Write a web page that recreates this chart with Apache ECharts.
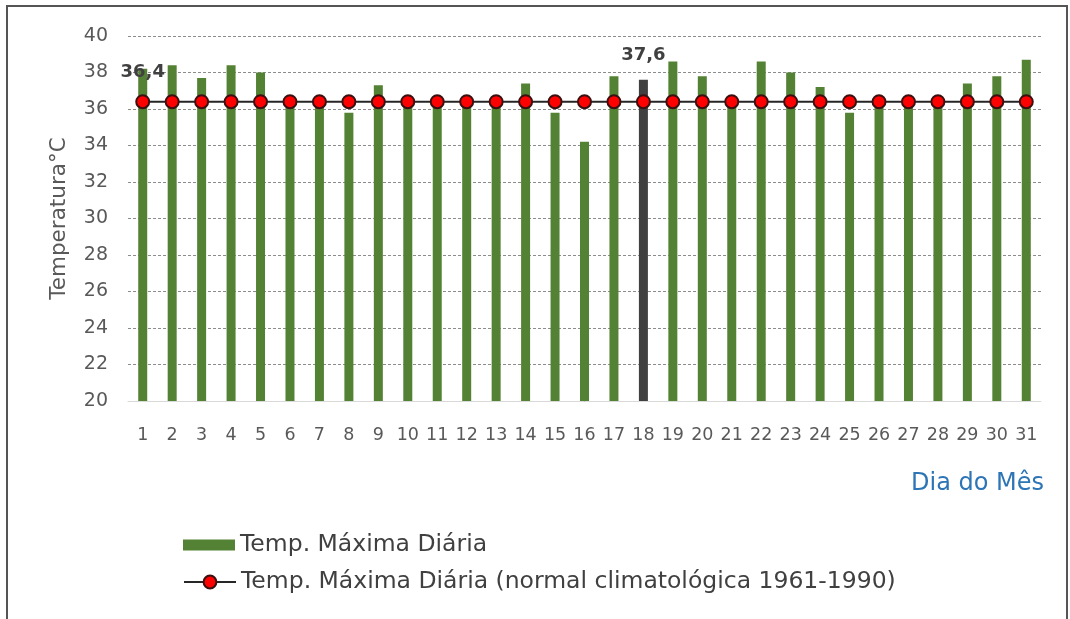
<!DOCTYPE html>
<html>
<head>
<meta charset="utf-8">
<script src="https://cdn.jsdelivr.net/npm/echarts@6/dist/echarts.min.js"></script>
<style>
html,body{margin:0;padding:0;background:#fff;}
#chart{position:absolute;left:0;top:0;width:1070px;height:619px;}
#frame{position:absolute;left:6px;top:5px;width:1062px;height:640px;border:2px solid #555;pointer-events:none;box-sizing:border-box;}
</style>
</head>
<body>
<div id="chart"></div>
<div id="frame"></div>
<script>
// Data
const days = ['1','2','3','4','5','6','7','8','9','10','11','12','13','14','15','16','17','18','19','20','21','22','23','24','25','26','27','28','29','30','31'];
const tempMax = [38.2, 38.4, 37.7, 38.4, 38.0, 36.4, 36.4, 35.8, 37.3, 36.5, 36.4, 36.7, 36.5, 37.4, 35.8, 34.2, 37.8, 37.6, 38.6, 37.8, 36.7, 38.6, 38.0, 37.2, 35.8, 36.3, 36.5, 36.7, 37.4, 37.8, 38.7];
const tempNormal = [36.4, 36.4, 36.4, 36.4, 36.4, 36.4, 36.4, 36.4, 36.4, 36.4, 36.4, 36.4, 36.4, 36.4, 36.4, 36.4, 36.4, 36.4, 36.4, 36.4, 36.4, 36.4, 36.4, 36.4, 36.4, 36.4, 36.4, 36.4, 36.4, 36.4, 36.4];
const yTicks = [20, 22, 24, 26, 28, 30, 32, 34, 36, 38, 40];
const highlightDay = '18';
const labelledNormalDay = '1';
const barName = 'Temp. Máxima Diária';
const lineName = 'Temp. Máxima Diária (normal climatológica 1961-1990)';

const fmt = v => String(v).replace('.', ',');
const FONT = '"DejaVu Sans", Verdana, sans-serif';
const valueLabel = (distance) => ({
  show: true, position: 'top', distance: distance, formatter: p => fmt(p.value),
  color: '#404040', fontWeight: 'bold', fontSize: 18, fontFamily: FONT
});

const barData = tempMax.map((v, i) => days[i] === highlightDay
  ? { value: v, itemStyle: { color: '#404040' }, label: valueLabel(15) }
  : v);
const lineData = tempNormal.map((v, i) => days[i] === labelledNormalDay
  ? { value: v, label: valueLabel(13) }
  : v);

const legendText = { fontSize: 23.5, lineHeight: 28, color: '#404040', fontFamily: FONT };

const chart = echarts.init(document.getElementById('chart'), null, { renderer: 'canvas' });
chart.setOption({
  animation: false,
  backgroundColor: '#fff',
  grid: { left: 128, right: 29, top: 36, bottom: 218, containLabel: false },
  legend: [
    {
      orient: 'vertical', left: 183, top: 531, padding: 0,
      itemWidth: 52, itemHeight: 11,
      textStyle: legendText,
      data: [{ name: barName, icon: 'rect' }]
    },
    {
      orient: 'vertical', left: 183, top: 568, padding: 0,
      itemWidth: 52, itemHeight: 16,
      textStyle: legendText,
      data: [{ name: lineName }]
    }
  ],
  xAxis: {
    type: 'category',
    data: days,
    name: 'Dia do Mês',
    nameLocation: 'end',
    nameGap: 3,
    nameTextStyle: { color: '#2E75B6', fontSize: 24, fontFamily: FONT, align: 'right', verticalAlign: 'top', padding: [71, 0, 0, 0] },
    axisLine: { lineStyle: { color: '#d9d9d9', width: 1 } },
    axisTick: { show: false },
    axisLabel: { color: '#595959', fontSize: 17.5, fontFamily: FONT, margin: 25, interval: 0 }
  },
  yAxis: {
    type: 'value',
    min: yTicks[0],
    max: yTicks[yTicks.length - 1],
    interval: yTicks[1] - yTicks[0],
    name: 'Temperatura°C',
    nameLocation: 'middle',
    nameGap: 58,
    nameTextStyle: { color: '#595959', fontSize: 21.5, fontFamily: FONT },
    axisLine: { show: false },
    axisTick: { show: false },
    axisLabel: { color: '#595959', fontSize: 19, fontFamily: FONT, margin: 20 },
    splitLine: { lineStyle: { color: '#8c8c8c', type: [3, 2], width: 1 } }
  },
  series: [
    {
      name: barName,
      type: 'bar',
      data: barData,
      barWidth: 9,
      itemStyle: { color: '#548235' },
      z: 2
    },
    {
      name: lineName,
      type: 'line',
      data: lineData,
      symbol: 'circle',
      symbolSize: 13,
      lineStyle: { color: '#262626', width: 2 },
      itemStyle: { color: '#ff0000', borderColor: '#3a1010', borderWidth: 2 },
      z: 3
    }
  ]
});
</script>
</body>
</html>
